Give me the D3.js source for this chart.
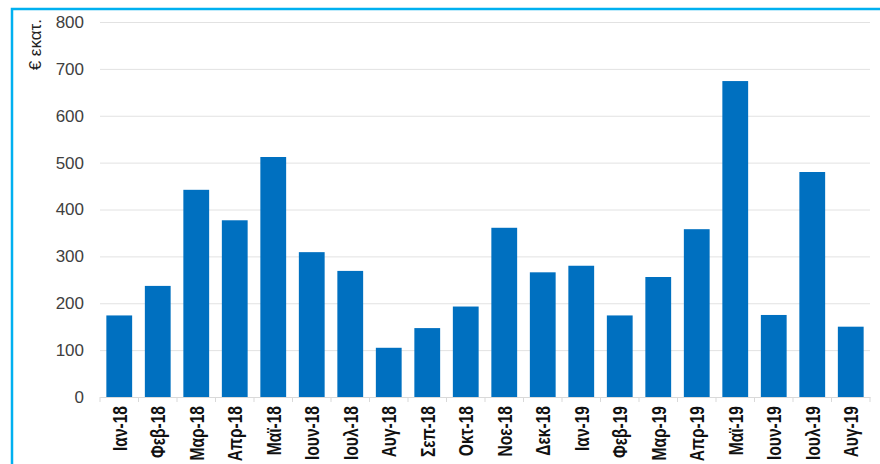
<!DOCTYPE html>
<html>
<head>
<meta charset="utf-8">
<script src="https://cdn.jsdelivr.net/npm/d3@7"></script>
<style>
    body { margin: 0; background: #fff; }
    svg { display: block; font-family: 'Liberation Sans', Arial, sans-serif; }
</style>
</head>
<body>
<svg id="chart" width="880" height="464"></svg>
<script>
//
// DATA
//
const months = ['Ιαν-18', 'Φεβ-18', 'Μαρ-18', 'Απρ-18', 'Μαϊ-18', 'Ιουν-18', 'Ιουλ-18', 'Αυγ-18', 'Σεπ-18', 'Οκτ-18',
    'Νοε-18', 'Δεκ-18', 'Ιαν-19', 'Φεβ-19', 'Μαρ-19', 'Απρ-19', 'Μαϊ-19', 'Ιουν-19', 'Ιουλ-19', 'Αυγ-19']
const amounts = [174, 237, 442, 377, 512, 309, 269, 105, 147, 193,
    361, 266, 280, 174, 256, 358, 674, 175, 480, 150]
const yTicks = [0, 100, 200, 300, 400, 500, 600, 700, 800]
const yTitle = '€ εκατ.'

//
// CHART
//
const svg = d3.select('#chart')
const margin = { top: 22, left: 100, right: 10, bottom: 67 }
const width = 880 - margin.left - margin.right
const height = 464 - margin.top - margin.bottom

// the light blue frame round the picture
svg.append('path')
    .attr('d', 'M12,464L12,9L880,9')
    .attr('fill', 'none')
    .attr('stroke', '#00B0F0')
    .attr('stroke-width', 2.5)

const g = svg.append('g').attr('transform', `translate(${margin.left},${margin.top})`)

const x = d3.scaleBand()
    .domain(months)
    .range([0, width])
    .paddingInner(0.33)
    .paddingOuter(0.165)

const y = d3.scaleLinear()
    .domain([0, 800])
    .range([height, 0])

// y axis with gridlines
const yAxis = g.append('g')
    .call(d3.axisLeft(y).tickValues(yTicks).tickSize(-width).tickPadding(16))
yAxis.select('.domain').remove()
yAxis.selectAll('.tick line').attr('stroke', '#e2e2e2')
yAxis.selectAll('.tick text')
    .attr('fill', '#404040')
    .style('font-size', '17px')

// bars
g.selectAll('rect.bar')
    .data(amounts)
    .enter()
    .append('rect')
    .attr('class', 'bar')
    .attr('x', (d, i) => x(months[i]))
    .attr('y', d => y(d))
    .attr('width', x.bandwidth())
    .attr('height', d => height - y(d))
    .attr('fill', '#0070C0')

// x axis: base line and labels
const xAxis = g.append('g')
    .attr('transform', `translate(0,${height})`)
    .call(d3.axisBottom(x).tickSize(0))
xAxis.select('.domain').attr('stroke', '#d9d9d9')
xAxis.selectAll('.tick text')
    .attr('fill', '#111')
    .style('font-size', '21px')
    .style('font-weight', 'bold')
    .attr('text-anchor', 'end')
    .attr('dy', null)
    .attr('y', 0)
    .attr('x', 0)
    .attr('transform', 'translate(7.5,9) rotate(-90) scale(0.74,1)')

// small ticks between the categories
const gap = x.step() * x.paddingInner() / 2
const edges = months.map(m => x(m) - gap).concat([x(months[months.length - 1]) + x.bandwidth() + gap])
xAxis.selectAll('line.sep')
    .data(edges)
    .enter()
    .append('line')
    .attr('class', 'sep')
    .attr('x1', d => d)
    .attr('x2', d => d)
    .attr('y1', 0)
    .attr('y2', 5)
    .attr('stroke', '#d9d9d9')

// axis title
svg.append('text')
    .attr('transform', 'translate(41,19) rotate(-90)')
    .attr('text-anchor', 'end')
    .attr('fill', '#222')
    .style('font-size', '17px')
    .text(yTitle)
</script>
</body>
</html>
